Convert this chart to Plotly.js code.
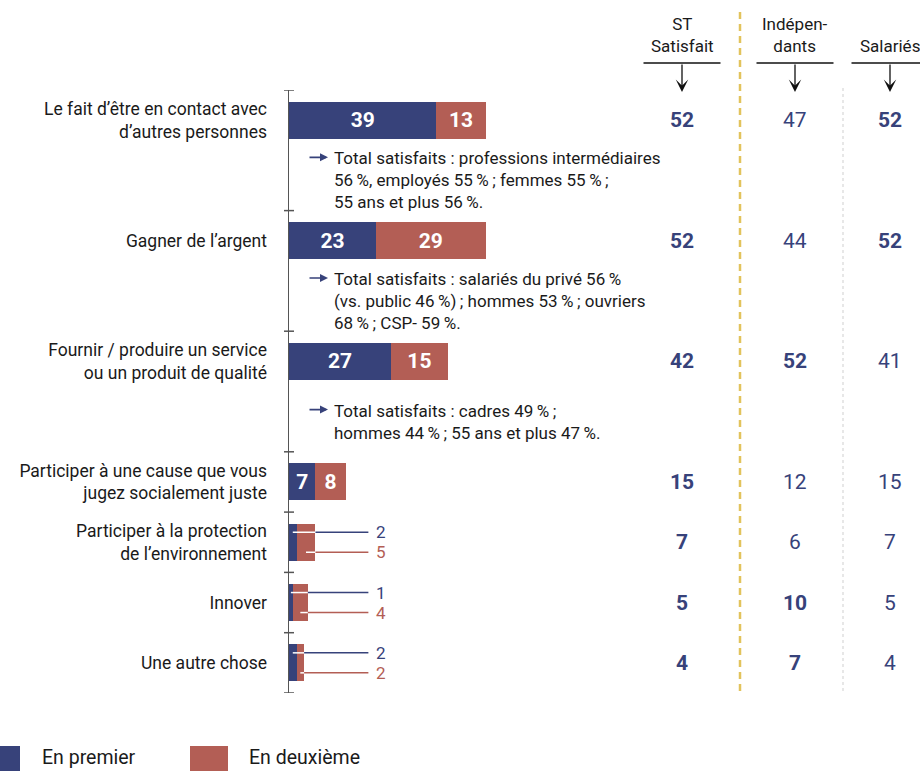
<!DOCTYPE html>
<html><head><meta charset="utf-8">
<script src="https://cdn.plot.ly/plotly-3.0.1.min.js"></script>
<style>html,body{margin:0;padding:0;background:#fff}</style>
</head><body><div id="chart" style="width:920px;height:771px"></div>
<script>
const categories = [
  "Le fait d’être en contact avec<br>d’autres personnes",
  "Gagner de l’argent",
  "Fournir / produire un service<br>ou un produit de qualité",
  "Participer à une cause que vous<br>jugez socialement juste",
  "Participer à la protection<br>de l’environnement",
  "Innover",
  "Une autre chose"
];
const enPremier  = [39, 23, 27, 7, 2, 1, 2];
const enDeuxieme = [13, 29, 15, 8, 5, 4, 2];
const seriesNames = ["En premier", "En deuxième"];
const notes = [
  "Total satisfaits : professions intermédiaires<br>56\u2009%, employés 55\u2009%\u2009; femmes 55\u2009%\u2009;<br>55 ans et plus 56\u2009%.",
  "Total satisfaits : salariés du privé 56\u2009%<br>(vs. public 46\u2009%)\u2009; hommes 53\u2009%\u2009; ouvriers<br>68\u2009%\u2009; CSP- 59\u2009%.",
  "Total satisfaits : cadres 49\u2009%\u2009;<br>hommes 44\u2009%\u2009; 55 ans et plus 47\u2009%."
];
const columnHeaders = ["ST<br>Satisfait", "Indépen-<br>dants", "Salariés"];
const stSatisfait  = [52, 52, 42, 15, 7, 5, 4];
const independants = [47, 44, 52, 12, 6, 10, 7];
const salaries     = [52, 52, 41, 15, 7, 5, 4];
const boldST  = [1, 1, 1, 1, 1, 1, 1];
const boldInd = [0, 0, 1, 0, 0, 1, 1];
const boldSal = [1, 1, 0, 0, 0, 0, 0];

// ---- layout geometry ----
const W = 920, H = 771, L = 289, T = 90, B = 78;
const plotW = W - L, plotH = H - T - B;
const pxPerUnit = 3.78;
const px2x = p => (p - L) / plotW;
const py2y = p => (H - B - p) / plotH;
const navy = '#37427a', red = '#b35e55', ink = '#1a1a1a';
const colors = [navy, red];
const FONT = 'Roboto, "Liberation Sans", Arial, sans-serif';

const slots = [], rowSlot = [];
categories.forEach((c, i) => {
  rowSlot.push(slots.length); slots.push(c);
  if (i < notes.length) slots.push('note' + i);
});
const slotPx = plotH / slots.length;

const insideText = v => v >= 6 ? '<b>' + v + '</b>' : '';
const traces = [enPremier, enDeuxieme].map((vals, k) => ({
  type: 'bar', orientation: 'h', name: seriesNames[k], x: vals, y: categories,
  marker: {color: colors[k]}, text: vals.map(insideText), textposition: 'inside',
  insidetextanchor: 'middle', constraintext: 'none', cliponaxis: false,
  textfont: {color: '#fff', size: 21, family: FONT}, hoverinfo: 'skip', showlegend: false
}));

const shapes = [], annotations = [];
// axis ticks at row boundaries
const bounds = rowSlot.map(s => s - 0.5).concat([slots.length - 0.5]);
bounds.forEach(b => shapes.push({type: 'line', xref: 'paper', yref: 'y',
  x0: -5 / plotW, x1: 5 / plotW, y0: b, y1: b, line: {color: '#555', width: 1.5}}));

// leader lines for small bars
const leadEnd = 21, labelX = 22.4, off = 10 / slotPx;
categories.forEach((c, i) => {
  const p = enPremier[i], d = enDeuxieme[i];
  if (p >= 6) return;
  const yc = rowSlot[i], end = p + d;
  [[p / 2, yc - off, navy, p], [p + d / 2, yc + off, red, d]].forEach(([x0, y, col, v]) => {
    shapes.push({type: 'line', xref: 'x', yref: 'y', x0: x0, x1: end, y0: y, y1: y,
      line: {color: '#fff', width: 1.5}});
    shapes.push({type: 'line', xref: 'x', yref: 'y', x0: end, x1: leadEnd, y0: y, y1: y,
      line: {color: col, width: 1.5}});
    annotations.push({xref: 'x', yref: 'y', x: labelX, y: y, text: String(v), showarrow: false,
      xanchor: 'left', yanchor: 'middle', font: {size: 17, color: col, family: FONT}});
  });
});

// notes
const noteFont = 17, noteLine = noteFont * 1.3;
notes.forEach((n, i) => {
  const slot = rowSlot[i] + 1;
  const nl = n.split('<br>').length;
  annotations.push({xref: 'paper', yref: 'y', x: px2x(332), y: slot, text: n, showarrow: false,
    xanchor: 'left', yanchor: 'middle', align: 'left', font: {size: noteFont, color: ink, family: FONT}});
  annotations.push({xref: 'paper', yref: 'y', x: px2x(328), y: slot, yshift: (nl - 1) / 2 * noteLine + 1,
    text: '', showarrow: true, ax: -20, ay: 0, arrowhead: 2, arrowsize: 1, arrowwidth: 1.6,
    arrowcolor: navy, standoff: 0});
});

// right-hand columns
const colPx = [682, 795, 890];
const colVals = [stSatisfait, independants, salaries];
const colBold = [boldST, boldInd, boldSal];
colVals.forEach((vals, c) => {
  vals.forEach((v, i) => {
    annotations.push({xref: 'paper', yref: 'y', x: px2x(colPx[c]), y: rowSlot[i],
      text: colBold[c][i] ? '<b>' + v + '</b>' : String(v), showarrow: false,
      xanchor: 'center', yanchor: 'middle', font: {size: 21, color: navy, family: FONT}});
  });
  annotations.push({xref: 'paper', yref: 'paper', x: px2x(colPx[c]), y: py2y(58),
    text: columnHeaders[c], showarrow: false, xanchor: 'center', yanchor: 'bottom',
    font: {size: 17, color: ink, family: FONT}});
  shapes.push({type: 'line', xref: 'paper', yref: 'paper', x0: px2x(colPx[c] - 38.5), x1: px2x(colPx[c] + 38.5),
    y0: py2y(63), y1: py2y(63), line: {color: '#111', width: 1.3}});
  annotations.push({xref: 'paper', yref: 'paper', x: px2x(colPx[c]), y: py2y(92), text: '',
    showarrow: true, ax: 0, ay: -29, arrowhead: 3, arrowsize: 1.6, arrowwidth: 1.3,
    arrowcolor: '#111', standoff: 0});
});
// separators
shapes.push({type: 'line', xref: 'paper', yref: 'paper', x0: px2x(740), x1: px2x(740),
  y0: py2y(12), y1: 0, line: {color: '#e2c35c', width: 2.5, dash: '7px,5px'}});
shapes.push({type: 'line', xref: 'paper', yref: 'paper', x0: px2x(843), x1: px2x(843),
  y0: py2y(88), y1: 0, line: {color: '#cfcfcf', width: 1, dash: '3px,3px'}});

// legend (large swatches as in the original)
const legendSwatch = [[-18, 20], [190, 228]];
const legendText = [40, 247];
seriesNames.forEach((nm, k) => {
  shapes.push({type: 'rect', xref: 'paper', yref: 'paper',
    x0: px2x(legendSwatch[k][0]), x1: px2x(legendSwatch[k][1]), y0: py2y(746), y1: py2y(776),
    fillcolor: colors[k], line: {width: 0}});
  annotations.push({xref: 'paper', yref: 'paper', x: px2x(legendText[k]), y: py2y(757), text: nm,
    showarrow: false, xanchor: 'left', yanchor: 'middle', font: {size: 19.5, color: ink, family: FONT}});
});

const layout = {
  width: W, height: H, margin: {l: L, r: 0, t: T, b: B},
  paper_bgcolor: '#fff', plot_bgcolor: 'rgba(0,0,0,0)',
  barmode: 'stack', bargap: 1 - 37 / slotPx,
  font: {family: FONT, color: ink},
  xaxis: {range: [0, plotW / pxPerUnit], showgrid: false, zeroline: false, showticklabels: false,
    ticks: '', showline: false, fixedrange: true},
  yaxis: {type: 'category', categoryorder: 'array', categoryarray: slots,
    range: [slots.length - 0.5, -0.5], tickvals: categories, ticktext: categories,
    showline: true, linecolor: '#555', linewidth: 1.5, ticks: '', showgrid: false, zeroline: false,
    tickfont: {size: 17.5, color: ink, family: FONT}, ticklabelstandoff: 17, fixedrange: true},
  showlegend: false,
  shapes: shapes, annotations: annotations
};
Plotly.newPlot('chart', traces, layout, {displayModeBar: false, staticPlot: true});
</script></body></html>
